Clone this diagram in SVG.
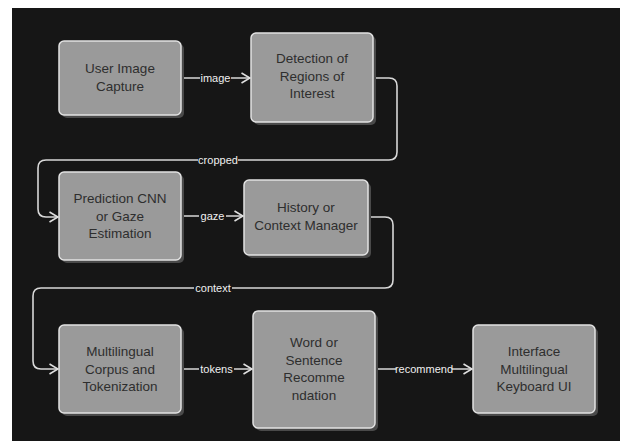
<svg xmlns="http://www.w3.org/2000/svg" width="620" height="441" viewBox="0 0 620 441">
<defs>
<style>
.bg{fill:#161616}
.shadow{fill:#4a4a4a}
.box{fill:#9a9a9a;stroke:#e2e2e2;stroke-width:1.5}
.txt{font-family:"Liberation Sans",Arial,sans-serif;font-size:13.5px;fill:#2e2e2e;text-anchor:middle}
.edge{fill:none;stroke:#d8d8d8;stroke-width:1.6}
.lblbg{fill:#161616}
.lbl{font-family:"Liberation Sans",Arial,sans-serif;font-size:11px;fill:#f0f0f0;text-anchor:middle}
</style>
<marker id="arr" viewBox="0 0 10 12" refX="9.5" refY="6" markerWidth="10" markerHeight="12" markerUnits="userSpaceOnUse" orient="auto">
<path d="M1,1 L9.5,6 L1,11" fill="none" stroke="#e0e0e0" stroke-width="1.6"/>
</marker>
</defs>
<rect x="0" y="0" width="620" height="441" fill="#ffffff"/>
<rect class="bg" x="12" y="8" width="608" height="433"/>

<g id="connectors">
<path class="edge" d="M181,78 H250" marker-end="url(#arr)"/>
<path class="edge" d="M373,78 H389 Q397,78 397,86 V152 Q397,160 389,160 H46 Q38,160 38,168 V209 Q38,217 46,217 H58" marker-end="url(#arr)"/>
<path class="edge" d="M181,216 H243" marker-end="url(#arr)"/>
<path class="edge" d="M368,217 H385 Q393,217 393,225 V280 Q393,288 385,288 H41 Q33,288 33,296 V361 Q33,369 41,369 H58" marker-end="url(#arr)"/>
<path class="edge" d="M181,369 H252" marker-end="url(#arr)"/>
<path class="edge" d="M375,369 H472" marker-end="url(#arr)"/>
<rect class="lblbg" x="200" y="71" width="31" height="13"/>
<text class="lbl" x="215.5" y="81.5">image</text>
<rect class="lblbg" x="198" y="153" width="40" height="13"/>
<text class="lbl" x="218" y="163.5">cropped</text>
<rect class="lblbg" x="199" y="209" width="27" height="13"/>
<text class="lbl" x="212.5" y="219.5">gaze</text>
<rect class="lblbg" x="194" y="281" width="38" height="13"/>
<text class="lbl" x="213" y="291.5">context</text>
<rect class="lblbg" x="199" y="362" width="35" height="13"/>
<text class="lbl" x="216.5" y="372.5">tokens</text>
<rect class="lblbg" x="396" y="362" width="56" height="13"/>
<text class="lbl" x="424" y="372.5">recommend</text>
</g>

<g id="n1">
<rect class="shadow" x="62" y="44" width="122" height="74" rx="5"/>
<rect class="box" x="59" y="41" width="122" height="74" rx="5"/>
<text class="txt" x="120" y="73">User Image</text>
<text class="txt" x="120" y="91">Capture</text>
</g>

<g id="n2">
<rect class="shadow" x="254" y="36" width="122" height="89" rx="5"/>
<rect class="box" x="251" y="33" width="122" height="89" rx="5"/>
<text class="txt" x="312" y="63">Detection of</text>
<text class="txt" x="312" y="80.5">Regions of</text>
<text class="txt" x="312" y="98">Interest</text>
</g>

<g id="n3">
<rect class="shadow" x="62" y="175" width="122" height="88" rx="5"/>
<rect class="box" x="59" y="172" width="122" height="88" rx="5"/>
<text class="txt" x="120" y="203">Prediction CNN</text>
<text class="txt" x="120" y="220.5">or Gaze</text>
<text class="txt" x="120" y="238">Estimation</text>
</g>

<g id="n4">
<rect class="shadow" x="247" y="183" width="124" height="75" rx="5"/>
<rect class="box" x="244" y="180" width="124" height="75" rx="5"/>
<text class="txt" x="306" y="212">History or</text>
<text class="txt" x="306" y="229.5">Context Manager</text>
</g>

<g id="n5">
<rect class="shadow" x="62" y="328" width="122" height="88" rx="5"/>
<rect class="box" x="59" y="325" width="122" height="88" rx="5"/>
<text class="txt" x="120" y="356">Multilingual</text>
<text class="txt" x="120" y="373.5">Corpus and</text>
<text class="txt" x="120" y="391">Tokenization</text>
</g>

<g id="n6">
<rect class="shadow" x="256" y="314" width="122" height="117" rx="5"/>
<rect class="box" x="253" y="311" width="122" height="117" rx="5"/>
<text class="txt" x="314" y="347">Word or</text>
<text class="txt" x="314" y="364.5">Sentence</text>
<text class="txt" x="314" y="382">Recomme</text>
<text class="txt" x="314" y="399.5">ndation</text>
</g>

<g id="n7">
<rect class="shadow" x="476" y="328" width="122" height="88" rx="5"/>
<rect class="box" x="473" y="325" width="122" height="88" rx="5"/>
<text class="txt" x="534" y="356">Interface</text>
<text class="txt" x="534" y="373.5">Multilingual</text>
<text class="txt" x="534" y="391">Keyboard UI</text>
</g>
</svg>
